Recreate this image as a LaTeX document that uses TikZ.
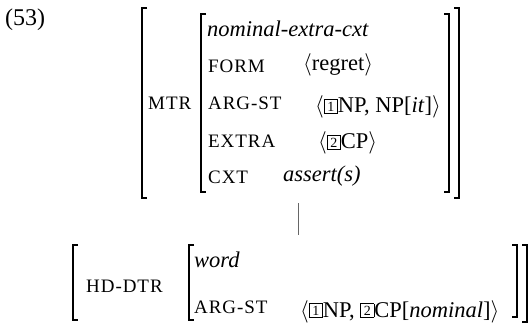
\documentclass[tikz,border=0pt]{standalone}
\usepackage{fix-cm}
\usepackage{fontspec}
\setmainfont{Liberation Serif}
\newfontfamily\featfont[LetterSpace=5]{Liberation Serif}
\newcommand\valsize{\fontsize{22.5}{26}\selectfont}
\newcommand\featsize{\fontsize{19}{22}\selectfont}
% boxed structure-sharing tag
\newcommand\tg[1]{{\setlength\fboxsep{0pt}\setlength\fboxrule{0.7pt}%
  \fbox{\makebox[12.5pt]{\rule{0pt}{13pt}\raisebox{1.4pt}{\fontsize{14}{14}\selectfont #1}}}}}
\newcommand\angl{$\langle$}
\newcommand\angr{$\rangle$}
\begin{document}
\begin{tikzpicture}[x=1pt,y=-1pt,
  feat/.style={anchor=base west,inner sep=0pt,font=\featfont\featsize},
  val/.style={anchor=base west,inner sep=0pt,font=\valsize},
  bkt/.style={line width=1.3pt,line cap=butt,line join=miter},
  link/.style={line width=1pt,draw=black!60}]
\useasboundingbox (0,0) rectangle (529,323);

% example number
\node[anchor=base west,inner sep=0pt,font=\fontsize{24}{28}\selectfont] (num) at (5,26) {(53)};

% mother AVM
\node[feat] (mtr) at (148,110) {MTR};
\draw[bkt] (147,8) -- (142,8) -- (142,198) -- (147,198);
\draw[bkt] (206,14) -- (201,14) -- (201,192) -- (206,192);
\draw[bkt] (444,14) -- (449,14) -- (449,192) -- (444,192);
\draw[bkt] (454,8) -- (459,8) -- (459,198) -- (454,198);

\node[val] (type) at (207,37) {\itshape nominal-extra-cxt};
\node[feat] (form) at (208,73) {FORM};
\node[val] (formv) at (303,71) {\angl regret\angr};
\node[feat] (argst) at (208,110) {ARG-ST};
\node[val] (argstv) at (315,113) {\angl\tg{1}NP, NP[\textit{it}]\angr};
\node[feat] (extra) at (208,147) {EXTRA};
\node[val] (extrav) at (318,149) {\angl\tg{2}CP\angr};
\node[feat] (cxt) at (208,183) {CXT};
\node[val] (cxtv) at (283,181) {\itshape assert(s)};

% tree branch from mother to daughter
\coordinate (mfoot) at (298,203);
\coordinate (dtop) at (298,235);
\draw[link] (mfoot) -- (dtop);

% head daughter AVM
\draw[bkt] (78,245) -- (73,245) -- (73,320) -- (78,320);
\node[feat] (hd) at (86,292) {HD-DTR};
\draw[bkt] (194,245) -- (189,245) -- (189,320) -- (194,320);
\node[val] (word) at (194,267) {\itshape word};
\node[feat] (dargst) at (194,313) {ARG-ST};
\node[val] (dargstv) at (300,317) {\angl\tg{1}NP, \tg{2}CP[\textit{nominal}]\angr};
\draw[bkt] (512,245) -- (517,245) -- (517,317) -- (512,317);
\draw[bkt] (522,245) -- (527,245) -- (527,322) -- (522,322);
\end{tikzpicture}
\end{document}
